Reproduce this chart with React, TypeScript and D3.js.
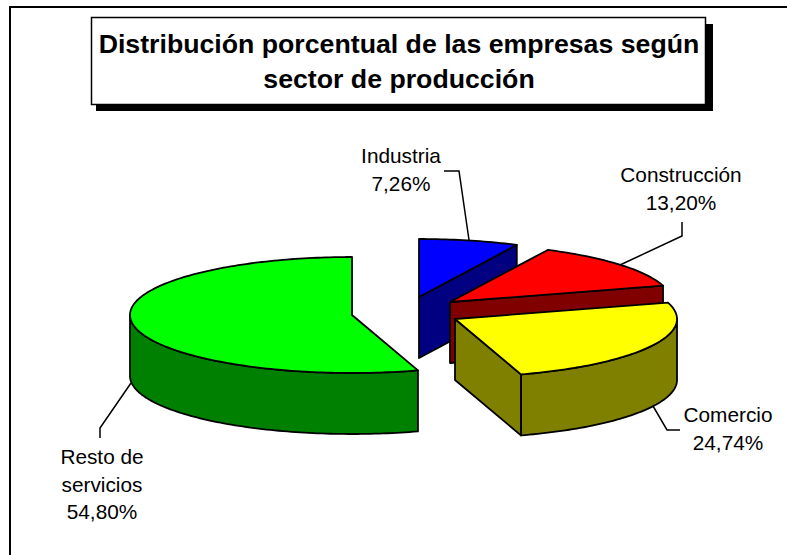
import React from "react";
import * as d3 from "d3";

const sectors = ["Industria", "Construcción", "Comercio", "Resto de servicios"];
const shares = [7.26, 13.2, 24.74, 54.8];
const shareLabels = ["7,26%", "13,20%", "24,74%", "54,80%"];
const topColors = ["#0000ff", "#ff0000", "#ffff00", "#00ff00"];
const sideColors = ["#000080", "#800000", "#808000", "#008000"];
const apexes = [
  [419, 297],
  [450, 302],
  [455, 319],
  [352, 315],
];
const labelLines = [
  ["Industria", "7,26%"],
  ["Construcción", "13,20%"],
  ["Comercio", "24,74%"],
  ["Resto de", "servicios", "54,80%"],
];
const labelAnchors = [
  [401, 163],
  [681, 182],
  [728, 422],
  [102, 464],
];
const leaders = [
  [[444, 171], [459, 171], [469, 240]],
  [[682, 222], [682, 236], [620, 265]],
  [[653, 406], [667, 430], [680, 430]],
  [[100, 438], [100, 428], [131, 383]],
];

const RX = 222;
const RY = 58;
const DEPTH = 61;
const FONT = "'Liberation Sans', Arial, sans-serif";

const pie = d3.pie<number>().sort(null).value((d) => d)(shares);
const line = d3.line<[number, number]>();
const pt = (i: number, a: number, dy = 0): [number, number] => [
  apexes[i][0] + RX * Math.sin(a),
  apexes[i][1] - RY * Math.cos(a) + dy,
];
const arcPts = (i: number, a0: number, a1: number, dy = 0): [number, number][] => {
  const n = Math.max(2, Math.ceil(Math.abs(a1 - a0) / 0.02));
  return d3.range(n + 1).map((k) => pt(i, a0 + ((a1 - a0) * k) / n, dy));
};

function Slice({ i }: { i: number }) {
  const { startAngle: a0, endAngle: a1 } = pie[i];
  const apex = apexes[i] as [number, number];
  const low = (p: [number, number]): [number, number] => [p[0], p[1] + DEPTH];
  const faces: [number, number][][] = [];
  if (i === 0 || i === 1) {
    const e = pt(i, a1);
    faces.push([apex, e, low(e), low(apex)]);
  }
  if (i === 2) {
    const from = Math.PI / 2;
    faces.push([...arcPts(i, from, a1), ...arcPts(i, a1, from, DEPTH)]);
    const e = pt(i, a1);
    faces.push([apex, e, low(e), low(apex)]);
  }
  if (i === 3) {
    const to = (3 * Math.PI) / 2;
    faces.push([...arcPts(i, a0, to), ...arcPts(i, to, a0, DEPTH)]);
  }
  const top = [apex, ...arcPts(i, a0, a1)];
  const stroke = { stroke: "#000", strokeWidth: 1.8, strokeLinejoin: "round" as const };
  return (
    <g>
      {faces.map((f, k) => (
        <path key={k} d={line(f) + "Z"} fill={sideColors[i]} {...stroke} />
      ))}
      <path d={line(top) + "Z"} fill={topColors[i]} {...stroke} />
    </g>
  );
}

export default function App() {
  return (
    <svg
      width={787}
      height={555}
      style={{ position: "absolute", left: 0, top: 0, background: "#fff" }}
      fontFamily={FONT}
    >
      <title>{sectors.join(", ") + ": " + shareLabels.join(", ")}</title>
      <path d="M10,555V7H787" fill="none" stroke="#000" strokeWidth={2} />
      <rect x={96} y={24} width={617} height={87} fill="#000" />
      <rect x={91.5} y={17.5} width={614} height={87} fill="#fff" stroke="#000" strokeWidth={1.5} />
      <g textAnchor="middle" fontWeight="bold" fontSize={26.7} fill="#000">
        <text x={399} y={53}>Distribución porcentual de las empresas según</text>
        <text x={399} y={88}>sector de producción</text>
      </g>
      {leaders.map((l, i) => (
        <path
          key={i}
          d={line(l as [number, number][]) as string}
          fill="none"
          stroke="#000"
          strokeWidth={1.5}
        />
      ))}
      {[0, 1, 2, 3].map((i) => (
        <Slice key={i} i={i} />
      ))}
      <g textAnchor="middle" fontSize={20.8} fill="#000">
        {labelLines.map((ls, i) =>
          ls.map((t, k) => (
            <text key={k + "-" + i} x={labelAnchors[i][0]} y={labelAnchors[i][1] + k * 27.5}>
              {t}
            </text>
          ))
        )}
      </g>
    </svg>
  );
}
